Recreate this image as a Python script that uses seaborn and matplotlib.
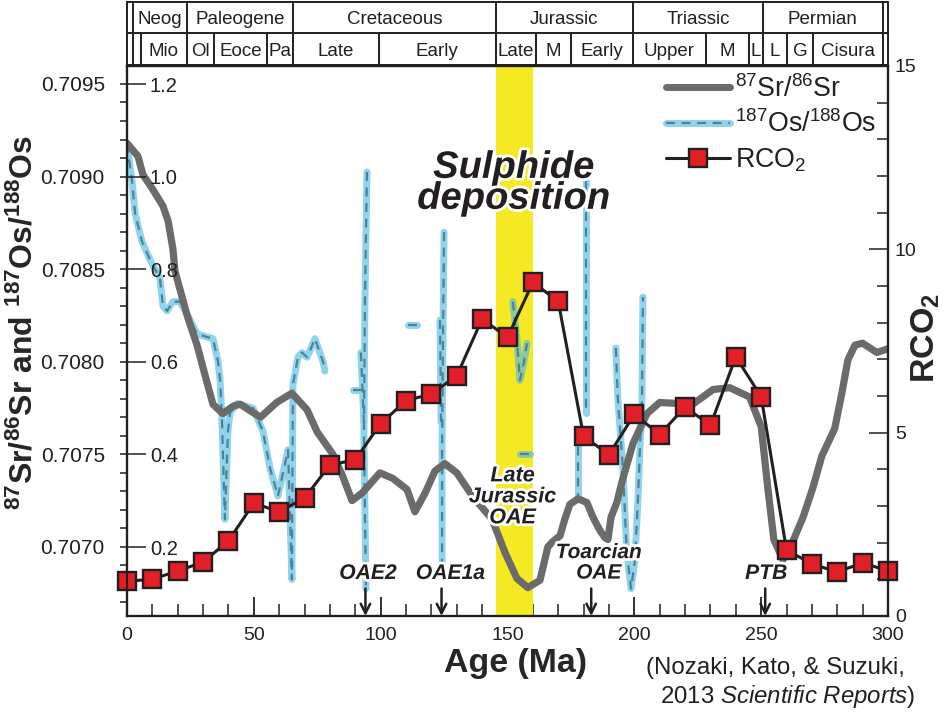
from matplotlib.legend_handler import HandlerTuple
from matplotlib.lines import Line2D
from matplotlib.ticker import FormatStrFormatter, MultipleLocator
import matplotlib.patheffects as pe
import matplotlib.pyplot as plt
import pandas as pd
import seaborn as sns

sr_age = [0, 4.3, 6.3, 10.2, 14.2, 16.2, 18.1, 18.9, 23.7, 27.6, 31.5, 33.9, 37.8, 41.8, 44.7, 52.6, 59, 65, 71, 75,
          81.2, 85.1, 88.7, 92.6, 99.7, 104.8, 110.4, 113.5, 117.5, 121.4, 125.3, 130, 136.4, 143.9, 149, 153.7,
          158, 162.8, 165.9, 167.9, 170.7, 172.6, 174.6, 177.8, 181.3, 183.7, 186.4, 188.4, 189.6, 190.8, 193.1,
          195.1, 199.5, 205, 210, 223, 231, 237.6, 245.4, 250, 252.6, 255, 258.6, 262.5, 266.5, 270.4, 273.9,
          279, 281.8, 284.2, 287, 290, 295.6, 300]
sr_ratio = [.70918, .70911, .70901, .70893, .70884, .70876, .70861, .70849, .70825, .70809, .70789, .70777, .70772,
            .70776, .70777, .70770, .70778, .70783, .70774, .70762, .70750, .70738, .70725, .70729, .70740, .70737,
            .70731, .70719, .70729, .70741, .70745, .70740, .70727, .70715, .70697, .70683, .70678, .70682, .70700,
            .70703, .70706, .70715, .70723, .70726, .70724, .70716, .70709, .70705, .70704, .70716, .70724, .70735,
            .70756, .70772, .70778, .70777, .70785, .70786, .70781, .70765, .70732, .70704, .70693, .70703, .70716,
            .70732, .70749, .70764, .70783, .70801, .70809, .70810, .70805, .70807]

# Os record has gaps, so each piece is its own list
os_pieces = [
    ([0, 2, 3.2, 5.9, 9.1, 13, 14.2, 15.8, 18.1, 20.9, 24, 27.6, 33.9, 35.9, 36.7, 37.4, 38.6, 39.8, 40.6, 43.4,
      49.7, 53.6, 56.4, 59.5, 61.5, 63.5, 65, 65.4, 67.4, 69, 71, 74.1, 77.3, 78],
     [1.07, .99, .92, .86, .82, .78, .72, .71, .73, .73, .70, .66, .65, .60, .56, .48, .26, .45, .49, .51,
      .50, .45, .37, .31, .36, .41, .13, .55, .61, .62, .61, .65, .60, .58]),
    ([89, 92.6], [.54, .54]),
    ([94.6, 93.8, 93.4, 94.2], [1.01, .73, .45, .11]),
    ([92.2, 93.4], [.62, .47]),
    ([110.8, 114.3], [.68, .68]),
    ([125, 124.6, 124.2, 124.2], [.88, .67, .41, .16]),
    ([123.4, 123.8], [.69, .47]),
    ([180.9, 180.9], [.99, .49]),
    ([177.8, 177.8], [.45, .31]),
    ([192.7, 193.5, 195.5, 197, 198.7, 200.2, 201.4, 203, 203.4],
     [.63, .52, .37, .19, .11, .17, .30, .52, .74]),
]
# same record, inside the yellow band it shows green
os_band_pieces = [
    ([152.1, 153.7, 154.9, 156.5, 157.7], [.73, .65, .56, .60, .64]),
    ([154.9, 158.8], [.40, .40]),
]

rco2_age = list(range(0, 301, 10))
rco2 = [0.95, 1.0, 1.23, 1.47, 2.05, 3.08, 2.84, 3.22, 4.12, 4.26, 5.25, 5.87, 6.06, 6.55, 8.1, 7.6, 9.1, 8.58,
        4.9, 4.4, 5.5, 4.95, 5.7, 5.2, 7.07, 5.98, 1.8, 1.42, 1.2, 1.45, 1.23]

period_edges = [2.4, 23.6, 65.4, 145.4, 199.4, 250.7, 298]
period_labels = ["Neog", "Paleogene", "Cretaceous", "Jurassic", "Triassic", "Permian"]
epoch_edges = [2.4, 5.5, 23.6, 34.3, 55.2, 65.4, 99.3, 145.4, 161.2, 175, 199.4, 228.2, 245.2, 250.7, 260.1, 270.4, 298]
epoch_labels = ["", "Mio", "Ol", "Eoce", "Pa", "Late", "Early", "Late", "M", "Early", "Upper", "M", "L", "L", "G", "Cisura"]

INK = "#231f20"
BLUE = "#8fd3ec"
DASH = "#4e8299"
GREEN = "#8cc9a0"
GREY = "#6b6b6b"
YELLOW = "#f4e923"
RED = "#e01f26"

sns.set_theme(style="ticks")
plt.rcParams["font.family"] = ["Liberation Sans", "DejaVu Sans"]
plt.rcParams["mathtext.fontset"] = "custom"
plt.rcParams["mathtext.rm"] = "Liberation Sans"
plt.rcParams["mathtext.bf"] = "Liberation Sans:bold"
plt.rcParams["mathtext.it"] = "Liberation Sans:italic"
plt.rcParams["mathtext.default"] = "regular"
plt.rcParams["text.color"] = INK
plt.rcParams["axes.edgecolor"] = INK
plt.rcParams["xtick.color"] = INK
plt.rcParams["ytick.color"] = INK


def pieces_frame(pieces):
    rows = []
    for i, (ages, values) in enumerate(pieces):
        rows += [{"piece": i, "age": a, "ratio": v} for a, v in zip(ages, values)]
    return pd.DataFrame(rows)


fig = plt.figure(figsize=(9.46, 7.14), dpi=100)
ax_os = fig.add_axes([127 / 946, 98 / 714, 761 / 946, 550 / 714])
ax_sr = ax_os.twinx()
ax_scale = ax_os.twinx()  # Os tick labels have to sit above the curves
ax_co2 = ax_os.twinx()

ax_os.axvspan(145.5, 160, color=YELLOW, lw=0)

for pieces, colour in [(os_pieces, BLUE), (os_band_pieces, GREEN)]:
    sns.lineplot(data=pieces_frame(pieces), x="age", y="ratio", units="piece", estimator=None, sort=False,
                 color=colour, lw=5, solid_capstyle="round", ax=ax_os)
    sns.lineplot(data=pieces_frame(pieces), x="age", y="ratio", units="piece", estimator=None, sort=False,
                 color=DASH, lw=1.6, linestyle=(0, (4, 3)), ax=ax_os)

sns.lineplot(x=sr_age, y=sr_ratio, color=GREY, lw=5.2, sort=False, ax=ax_sr)
sns.lineplot(x=rco2_age, y=rco2, color=INK, lw=2.2, marker="s", ms=12.5, mfc=RED, mec=INK, mew=1.7,
             clip_on=False, ax=ax_co2)

ax_os.set_xlim(0, 300)
ax_os.set_ylim(0.051, 1.2389)
ax_scale.set_ylim(0.051, 1.2389)
ax_sr.set_ylim(0.706627, 0.709597)
ax_co2.set_ylim(0, 15)

ax_os.set_xticks(range(0, 301, 50))
ax_os.xaxis.set_minor_locator(MultipleLocator(10))
ax_os.tick_params(axis="x", which="major", direction="in", length=14, width=1.3, labelsize=14, pad=8)
ax_os.tick_params(axis="x", which="minor", direction="in", length=8.5, width=1.1)
ax_os.set_xlabel("Age (Ma)", fontsize=24.4, fontweight="bold", labelpad=3, x=0.51)
ax_os.set_ylabel("")
ax_os.set_yticks([])

# Os scale sits inside the frame, Sr scale outside of it
ax_scale.yaxis.tick_left()
ax_scale.set_yticks([0.2, 0.4, 0.6, 0.8, 1.0, 1.2])
ax_scale.yaxis.set_major_formatter(FormatStrFormatter("%.1f"))
ax_scale.tick_params(axis="y", direction="in", length=14, width=1.1, labelsize=14.5, pad=-16.5)
for label in ax_scale.get_yticklabels():
    label.set_ha("left")

ax_sr.yaxis.tick_left()
ax_sr.set_yticks([0.7070, 0.7075, 0.7080, 0.7085, 0.7090, 0.7095])
ax_sr.yaxis.set_major_formatter(FormatStrFormatter("%.4f"))
ax_sr.yaxis.set_minor_locator(MultipleLocator(0.0001))
ax_sr.tick_params(axis="y", which="major", direction="out", length=5, width=1.1, labelsize=15, pad=11)
ax_sr.tick_params(axis="y", which="minor", direction="out", length=5, width=1.1)
ax_sr.set_ylabel(r"$\mathbf{^{87}Sr/^{86}Sr}$ and $\mathbf{^{187}Os/^{188}Os}$", fontsize=23, fontweight="bold")
ax_sr.yaxis.set_label_position("left")
ax_sr.yaxis.set_label_coords(-87 / 761, 294 / 550)

ax_co2.set_yticks([0, 5, 10, 15])
ax_co2.yaxis.set_minor_locator(MultipleLocator(1))
ax_co2.tick_params(axis="y", which="major", direction="in", length=14, width=1.1, labelsize=14, pad=5)
ax_co2.tick_params(axis="y", which="minor", direction="in", length=8, width=1.1)
ax_co2.set_ylabel(r"RCO$\mathbf{_2}$", fontsize=24.5, fontweight="bold")
ax_co2.yaxis.set_label_coords(783 / 761, 278 / 550)

for a in [ax_os, ax_sr, ax_scale, ax_co2]:
    for spine in a.spines.values():
        spine.set_linewidth(1.5)

# time scale boxes above the frame
top = ax_os.get_xaxis_transform()
row_mid, row_top = 1.06, 1.1164
for y in [1.0018, row_mid, row_top]:
    ax_os.plot([0, 300], [y, y], color=INK, lw=1.4, transform=top, clip_on=False)
for x in [0, 300]:
    ax_os.plot([x, x], [1, row_top], color=INK, lw=1.4, transform=top, clip_on=False)
for x in period_edges:
    ax_os.plot([x, x], [row_mid, row_top], color=INK, lw=1.4, transform=top, clip_on=False)
for x in epoch_edges:
    ax_os.plot([x, x], [1, row_mid], color=INK, lw=1.4, transform=top, clip_on=False)
for left, right, label in zip(period_edges, period_edges[1:], period_labels):
    ax_os.text((left + right) / 2, 1.085, label, transform=top, ha="center", va="center", fontsize=13.5)
for left, right, label in zip(epoch_edges, epoch_edges[1:], epoch_labels):
    ax_os.text((left + right) / 2, 1.027, label, transform=top, ha="center", va="center", fontsize=13.5)

halo = [pe.withStroke(linewidth=4, foreground="white")]
ax_co2.text(152.5, 11.8, "Sulphide\ndeposition", ha="center", va="center", fontsize=27.5, fontweight="bold",
            style="italic", linespacing=0.82, path_effects=halo)
ax_co2.text(152, 3.25, "Late\nJurassic\nOAE", ha="center", va="center", fontsize=15.5, fontweight="bold",
            style="italic", linespacing=1.0, path_effects=halo)
ax_co2.text(186, 1.45, "Toarcian\nOAE", ha="center", va="center", fontsize=15, fontweight="bold",
            style="italic", linespacing=1.1, path_effects=halo)
for x, label in [(95, "OAE2"), (127.5, "OAE1a"), (252, "PTB")]:
    ax_co2.text(x, 1.16, label, ha="center", va="center", fontsize=15.2, fontweight="bold",
                style="italic", path_effects=halo)
for x in [94, 124, 183, 251.6]:
    ax_co2.annotate("", xy=(x, 0), xytext=(x, 0.75),
                    arrowprops=dict(arrowstyle="->", color=INK, lw=1.8, mutation_scale=17, shrinkA=0, shrinkB=0))

handles = [
    Line2D([], [], color=GREY, lw=5),
    (Line2D([], [], color=BLUE, lw=5), Line2D([], [], color=DASH, lw=1.6, linestyle=(0, (4, 3)))),
    Line2D([], [], color=INK, lw=2.2, marker="s", ms=12.5, mfc=RED, mec=INK, mew=1.7),
]
labels = [r"$^{87}$Sr/$^{86}$Sr", r"$^{187}$Os/$^{188}$Os", r"RCO$_2$"]
ax_co2.legend(handles, labels, handler_map={tuple: HandlerTuple(ndivide=1, pad=0)}, loc="upper left",
              bbox_to_anchor=(0.708, 0.984), frameon=False, fontsize=19.3, handlelength=2.4, handletextpad=0.2,
              labelspacing=0.3, borderaxespad=0, borderpad=0)

fig.text(646 / 946, 1 - 668 / 714, "(Nozaki, Kato, & Suzuki,", fontsize=17.3, va="center")
fig.text(660 / 946, 1 - 697 / 714, r"2013 $\mathit{Scientific\ Reports}$)", fontsize=17.3, va="center")

fig.savefig("out.png", dpi=100)
